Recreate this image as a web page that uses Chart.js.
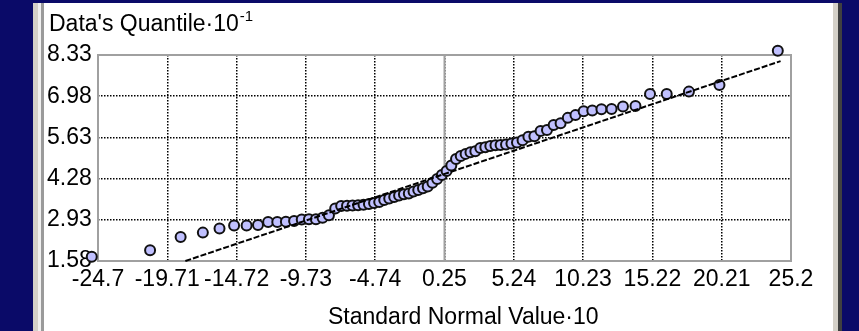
<!DOCTYPE html>
<html>
<head>
<meta charset="utf-8">
<script src="https://cdn.jsdelivr.net/npm/chart.js@4/dist/chart.umd.min.js"></script>
<style>
  html, body { margin: 0; padding: 0; width: 859px; height: 331px; overflow: hidden; background: #0a0a68; }
  .b { position: absolute; top: 3px; height: 328px; }
  #c { position: absolute; left: 0; top: 0; }
</style>
</head>
<body>
<div class="b" style="left:33px;width:5px;background:#d4d0c8"></div>
<div class="b" style="left:38px;width:3px;background:#f0f0f0"></div>
<div class="b" style="left:41px;width:3px;background:#9a9a9a"></div>
<div class="b" style="left:44px;width:789px;background:#fff"></div>
<div class="b" style="left:833px;width:5px;background:#d4d0c8"></div>
<div class="b" style="left:838px;width:4px;background:#404040"></div>
<canvas id="c" width="859" height="331"></canvas>
<script>
const xTicks = [-24.7, -19.71, -14.72, -9.73, -4.74, 0.25, 5.24, 10.23, 15.22, 20.21, 25.2];
const yTicks = [1.58, 2.93, 4.28, 5.63, 6.98, 8.33];

// standard normal value (x10) and data quantile (x0.1) of each point
const normalValues = [
  -25.15, -20.95, -18.75, -17.15, -15.95, -14.9, -14.0, -13.18, -12.45, -11.79,
  -11.17, -10.58, -10.03, -9.51, -9.01, -8.53, -8.07, -7.62, -7.19, -6.77,
  -6.37, -5.97, -5.58, -5.19, -4.82, -4.45, -4.09, -3.73, -3.37, -3.02,
  -2.67, -2.32, -1.98, -1.64, -1.30, -0.96, -0.62, -0.28, 0.06, 0.40,
  0.74, 1.08, 1.42, 1.77, 2.12, 2.47, 2.83, 3.19, 3.55, 3.92,
  4.29, 4.68, 5.07, 5.47, 5.87, 6.29, 6.72, 7.17, 7.63, 8.11,
  8.61, 9.13, 9.68, 10.27, 10.89, 11.55, 12.28, 13.1, 14.0, 15.05,
  16.25, 17.85, 20.05, 24.25
];
const quantiles = [
  1.72, 1.93, 2.37, 2.51, 2.645, 2.74, 2.74, 2.76, 2.86, 2.86,
  2.87, 2.89, 2.94, 2.95, 2.95, 3.0, 3.08, 3.3, 3.38, 3.39,
  3.40, 3.41, 3.42, 3.45, 3.48, 3.51, 3.58, 3.63, 3.68, 3.73,
  3.77, 3.79, 3.86, 3.91, 3.96, 4.02, 4.14, 4.27, 4.40, 4.53,
  4.71, 4.92, 5.02, 5.09, 5.14, 5.18, 5.28, 5.31, 5.35, 5.37,
  5.38, 5.40, 5.43, 5.46, 5.54, 5.65, 5.67, 5.84, 5.87, 6.04,
  6.09, 6.27, 6.36, 6.49, 6.51, 6.55, 6.56, 6.64, 6.66, 7.05,
  7.05, 7.13, 7.35, 8.47
];

// reference line ends
const fitX = [-18.41, 24.45];
const fitY = [1.58, 8.13];

const xTitle = "Standard Normal Value\u00b710";
const yTitle = "Data's Quantile\u00b710";
const yTitleExp = "-1";

Chart.defaults.font.family = "'Liberation Sans', Arial, sans-serif";
Chart.defaults.font.size = 23;
Chart.defaults.color = "#000";

const frame = {
  id: "frame",
  beforeDatasetsDraw(chart) {
    const { ctx, chartArea: a, scales } = chart;
    ctx.save();
    ctx.strokeStyle = "#a0a0a0";
    ctx.lineWidth = 2;
    const zx = scales.x.getPixelForValue(0.25);
    ctx.beginPath();
    ctx.moveTo(zx, a.top);
    ctx.lineTo(zx, a.bottom);
    ctx.stroke();
    ctx.strokeRect(a.left, a.top, a.right - a.left, a.bottom - a.top);
    ctx.restore();
  },
  afterDraw(chart) {
    const ctx = chart.ctx;
    ctx.save();
    ctx.fillStyle = "#000";
    ctx.textBaseline = "alphabetic";
    ctx.font = "23px 'Liberation Sans', Arial, sans-serif";
    ctx.fillText(yTitle, 49, 31);
    const w = ctx.measureText(yTitle).width;
    ctx.font = "15px 'Liberation Sans', Arial, sans-serif";
    ctx.fillText(yTitleExp, 49 + w + 1, 21);
    ctx.font = "23px 'Liberation Sans', Arial, sans-serif";
    ctx.fillText(xTitle, 328, 324);
    ctx.restore();
  }
};

new Chart(document.getElementById("c"), {
  type: "scatter",
  data: {
    datasets: [
      {
        type: "line",
        data: fitX.map((x, i) => ({ x, y: fitY[i] })),
        borderColor: "#000",
        borderWidth: 2,
        borderDash: [6, 2],
        pointRadius: 0,
        clip: false,
        order: 0
      },
      {
        data: normalValues.map((x, i) => ({ x, y: quantiles[i] })),
        pointRadius: 5,
        pointBackgroundColor: "#c0c0ff",
        pointBorderColor: "#111",
        pointBorderWidth: 2,
        clip: false,
        order: 1
      }
    ]
  },
  options: {
    responsive: false,
    animation: false,
    layout: { padding: { left: 47, top: 55, right: 68, bottom: 0 } },
    plugins: { legend: { display: false }, tooltip: { enabled: false } },
    scales: {
      x: {
        type: "linear",
        min: -24.7,
        max: 25.2,
        afterBuildTicks: s => { s.ticks = xTicks.map(v => ({ value: v })); },
        afterFit: s => { s.height = 70; },
        ticks: { padding: 5, maxRotation: 0, autoSkip: false, callback: v => String(v) },
        grid: { color: "#000", lineWidth: 1.5, drawTicks: false },
        border: { display: false, dash: [1.5, 1.5] }
      },
      y: {
        type: "linear",
        min: 1.58,
        max: 8.33,
        afterBuildTicks: s => { s.ticks = yTicks.map(v => ({ value: v })); },
        afterFit: s => { s.width = 51; },
        ticks: { crossAlign: "far", padding: 0, autoSkip: false, callback: v => v.toFixed(2) },
        grid: { color: "#000", lineWidth: 1.5, drawTicks: false },
        border: { display: false, dash: [1.5, 1.5] }
      }
    }
  },
  plugins: [frame]
});
</script>
</body>
</html>
